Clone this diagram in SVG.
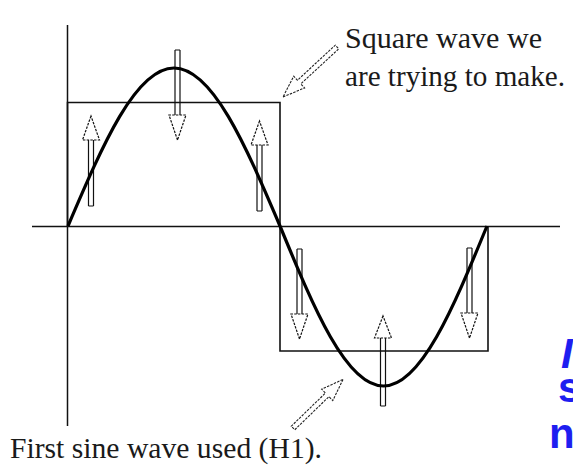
<svg xmlns="http://www.w3.org/2000/svg" width="573" height="476" viewBox="0 0 573 476">
<style>
.ax{stroke:#111;stroke-width:1.5;fill:none}
.sq{stroke:#111;stroke-width:1.6;fill:none}
.sine{stroke:#000;stroke-width:3.2;fill:none;stroke-linejoin:round}
.shaft{stroke:#111;stroke-width:1.2;fill:none}
.head{stroke:#111;stroke-width:1.2;fill:none;stroke-dasharray:2.5 1.2}
.call{stroke:#222;stroke-width:1.1;fill:none;stroke-dasharray:2.5 1.2}
.lbl{font-family:"Liberation Serif","Times New Roman",serif;font-size:29px;fill:#1a1a1a}
.hand{font-family:"Liberation Sans",Arial,sans-serif;font-weight:bold;font-size:42px;fill:#1e1ef0}
</style>
<rect width="573" height="476" fill="#fff"/>
<g id="axes">
<line class="ax" x1="67.5" y1="25" x2="67.5" y2="426"/>
<line class="ax" x1="32" y1="226.5" x2="560" y2="226.5"/>
</g>
<g id="square-wave">
<polyline class="sq" points="67.5,226 67.5,102.5 280,102.5 280,351 488,351 488,226"/>
</g>
<g id="harmonic-arrows">
<g id="arrow-up-1"><path class="shaft" d="M88.5,206 V140 M93.5,206 V140 M88.5,206 H93.5"/><path class="head" d="M91,116 L82.5,140 L99.5,140 Z"/></g>
<g id="arrow-down-1"><path class="shaft" d="M175,50 V115 M180,50 V115 M175,50 H180"/><path class="head" d="M177.5,140 L169,115 L186,115 Z"/></g>
<g id="arrow-up-2"><path class="shaft" d="M257,211 V145 M262,211 V145 M257,211 H262"/><path class="head" d="M259.5,121 L251,145 L268,145 Z"/></g>
<g id="arrow-down-2"><path class="shaft" d="M297,249 V314 M302,249 V314 M297,249 H302"/><path class="head" d="M299.5,339 L291,314 L308,314 Z"/></g>
<g id="arrow-up-3"><path class="shaft" d="M380.5,406 V338 M385.5,406 V338 M380.5,406 H385.5"/><path class="head" d="M383,316 L374.5,338 L391.5,338 Z"/></g>
<g id="arrow-down-3"><path class="shaft" d="M467,248 V313 M472,248 V313 M467,248 H472"/><path class="head" d="M469.5,338 L461,313 L478,313 Z"/></g>
</g>
<g id="sine-wave">
<path class="sine" d="M68,226 C102.57,145.06 135.64,68 174,68 C212.36,68 245.43,145.06 280,226 C313.75,307.97 346.04,386 383.5,386 C420.96,386 453.25,307.97 487,226"/>
</g>
<g id="label-square">
<text class="lbl" x="345" y="48" textLength="197" lengthAdjust="spacingAndGlyphs">Square wave we</text>
<text class="lbl" x="345" y="86" textLength="220" lengthAdjust="spacingAndGlyphs">are trying to make.</text>
</g>
<g id="label-sine">
<text class="lbl" x="10" y="458" textLength="312" lengthAdjust="spacingAndGlyphs">First sine wave used (H1).</text>
</g>
<g id="handwriting">
<text class="hand" x="561" y="368" font-style="italic">I</text>
<text class="hand" x="558" y="402">s</text>
<text class="hand" x="549" y="448">n</text>
</g>
<g id="connectors">
<path class="call" d="M283,97 L304.57,87.93 L300.84,83.89 L338.70,48.83 L335.30,45.17 L297.44,80.23 L293.71,76.19 Z"/>
<path class="call" d="M343,379.5 L332.78,400.56 L328.95,396.61 L294.74,429.79 L291.26,426.21 L325.47,393.03 L321.64,389.08 Z"/>
</g>
</svg>
